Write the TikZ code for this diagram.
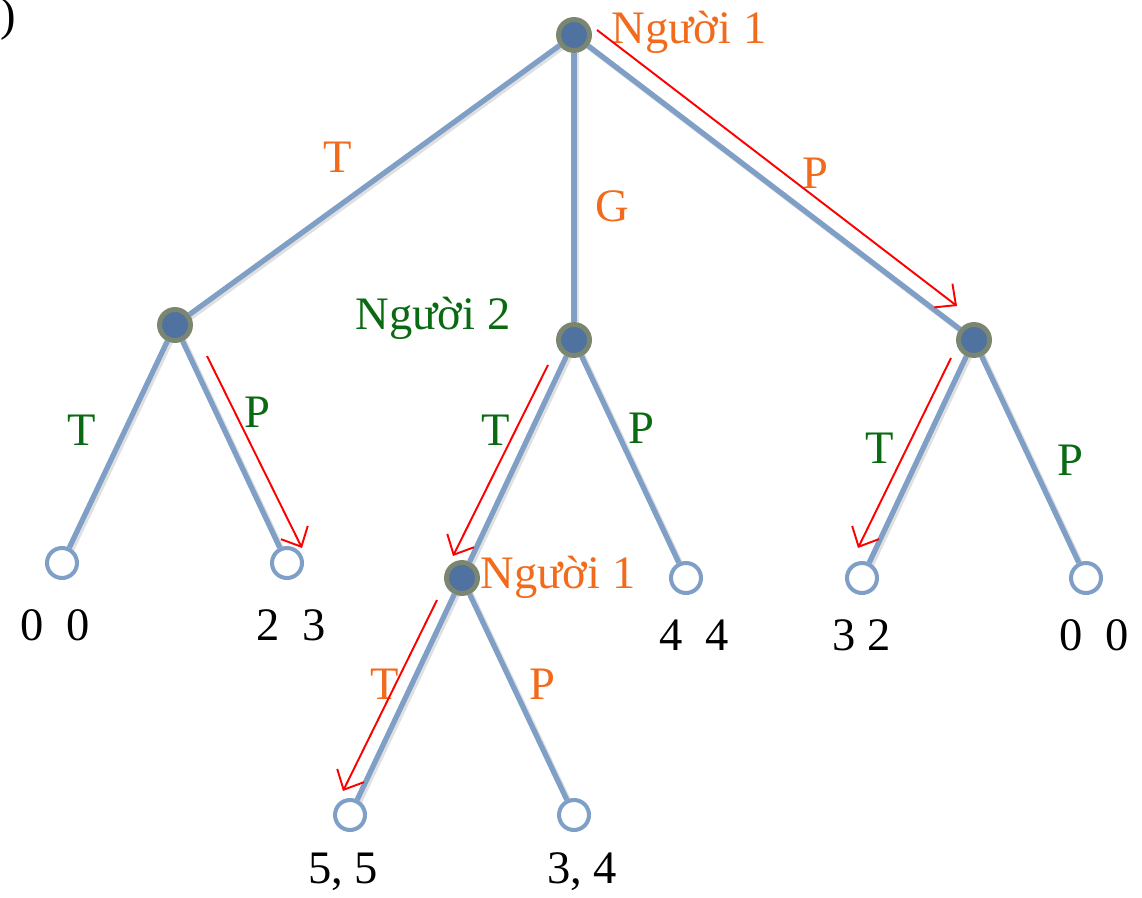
\documentclass[tikz,border=0pt]{standalone}
\usepackage{fontspec}
\setmainfont{Liberation Serif}
\usepackage{tikz}
\usetikzlibrary{arrows.meta, backgrounds}
\definecolor{edgeblue}{HTML}{7F9FC6}
\definecolor{nodefill}{HTML}{4F72A0}
\definecolor{nodering}{HTML}{7A8670}
\definecolor{plorange}{HTML}{F26B1D}
\definecolor{plgreen}{HTML}{0A6A12}
\begin{document}
\begin{tikzpicture}[
  x=0.02cm, y=-0.02cm,
  decision/.style={circle, draw=nodering, fill=nodefill, line width=2.8pt, minimum size=0.62cm, inner sep=0pt},
  terminal/.style={circle, draw=edgeblue, fill=white, line width=2.3pt, minimum size=0.6cm, inner sep=0pt},
  branch/.style={edgeblue, line width=3pt},
  branchshadow/.style={black!12, line width=3.4pt},
  choice/.style={-{Straight Barb[length=9pt, width=17pt]}, red, line width=1.1pt},
  bigtxt/.style={font=\fontsize{26.5}{30}\selectfont, inner sep=0pt},
  lblone/.style={bigtxt, text=plorange},
  lbltwo/.style={bigtxt, text=plgreen},
  payoff/.style={bigtxt, text=black}
]
\useasboundingbox (0,0) rectangle (1142,898);

%  : -- leftover bracket at the corner  : --
\node[payoff] (brk) at (8,19) {)};

%  : -- decision nodes  : --
\node[decision] (r) at (574,35) {};
\node[decision] (a) at (175,325) {};
\node[decision] (b) at (574,340) {};
\node[decision] (c) at (974,340) {};
\node[decision] (d) at (462,578) {};

%  : -- terminal nodes  : --
\node[terminal] (a1) at (62,563) {};
\node[terminal] (a2) at (287,563) {};
\node[terminal] (b2) at (686,578) {};
\node[terminal] (c1) at (862,578) {};
\node[terminal] (c2) at (1086,578) {};
\node[terminal] (d1) at (350,815) {};
\node[terminal] (d2) at (574,815) {};

%  : -- branches  : --
\begin{scope}[on background layer]
  \foreach \u/\v in {r/a, r/b, r/c, a/a1, a/a2, b/d, b/b2, c/c1, c/c2, d/d1, d/d2} {
    \draw[branchshadow] ([shift={(2,2)}]\u.center) -- ([shift={(2,2)}]\v.center);
    \draw[branch] (\u) -- (\v);
  }
\end{scope}

%  : -- player labels  : --
\node[lblone] (p1top) at (689,32) {Người 1};
\node[lbltwo] (p2mid) at (433,318) {Người 2};
\node[lblone] (p1low) at (558,577) {Người 1};

%  : -- move labels  : --
\node[lblone] (lt) at (338,157) {T};
\node[lblone] (lg) at (612,206) {G};
\node[lblone] (lp) at (815,173) {P};
\node[lbltwo] (lat) at (82,430) {T};
\node[lbltwo] (lap) at (257,412) {P};
\node[lbltwo] (lbt) at (496,430) {T};
\node[lbltwo] (lbp) at (641,428) {P};
\node[lbltwo] (lct) at (880,448) {T};
\node[lbltwo] (lcp) at (1070,460) {P};
\node[lblone] (ldt) at (385,684) {T};
\node[lblone] (ldp) at (542,684) {P};

%  : -- payoffs  : --
\node[payoff] (v1) at (55,625) {0\ \ 0};
\node[payoff] (v2) at (291,625) {2\ \ 3};
\node[payoff] (v3) at (694,635) {4\ \ 4};
\node[payoff] (v4) at (862,635) {3 2};
\node[payoff] (v5) at (1094,635) {0\ \ 0};
\node[payoff] (v6) at (343,872) {5, 5};
\node[payoff] (v7) at (582,872) {3, 4};

%  : -- equilibrium path  : --
\coordinate (s1) at (597,30);   \coordinate (e1) at (957,306);
\coordinate (s2) at (207,356);  \coordinate (e2) at (302,548);
\coordinate (s3) at (548,365);  \coordinate (e3) at (453,556);
\coordinate (s4) at (437,600);  \coordinate (e4) at (343,791);
\coordinate (s5) at (951,358);  \coordinate (e5) at (858,548);
\foreach \i in {1,...,5} {
  \draw[choice] (s\i) -- (e\i);
}

\end{tikzpicture}
\end{document}
